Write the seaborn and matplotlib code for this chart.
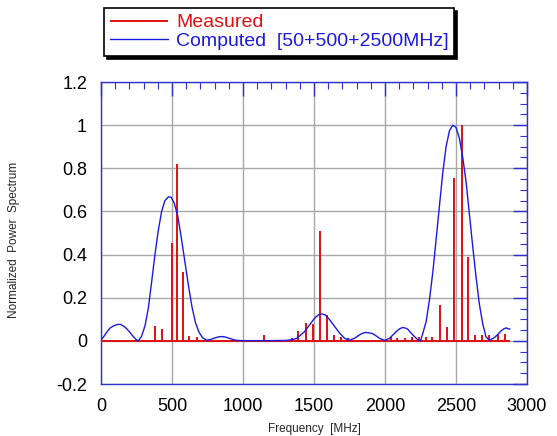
import numpy as np
import pandas as pd
import matplotlib
matplotlib.use("Agg")
import matplotlib.pyplot as plt
from matplotlib.ticker import MultipleLocator
import seaborn as sns

# Measured spectral lines (frequency in MHz, normalized power)
meas_freq = [380, 427, 501, 532, 577, 623, 679, 1148, 1342, 1389, 1443, 1490,
             1540, 1589, 1640, 1692, 1739, 2040, 2087, 2138, 2190, 2239, 2286,
             2334, 2388, 2435, 2485, 2539, 2583, 2632, 2684, 2735, 2793, 2842]
meas_vals = [0.07, 0.056, 0.454, 0.82, 0.32, 0.023, 0.02, 0.025, 0.015, 0.048,
             0.083, 0.077, 0.51, 0.118, 0.028, 0.02, 0.014, 0.017, 0.015, 0.015,
             0.02, 0.017, 0.02, 0.02, 0.167, 0.064, 0.753, 1.0, 0.39, 0.026,
             0.026, 0.026, 0.03, 0.03]

# Computed spectrum
comp_freq = [0, 20, 40, 65, 90, 115, 138, 160, 180, 205, 227, 245, 262, 285,
             310, 333, 356, 380, 403, 427, 450, 475, 495, 515, 540, 565, 590,
             615, 640, 665, 690, 715, 742, 770, 800, 825, 848, 875, 907, 935,
             960, 1000, 1100, 1200, 1300, 1340, 1376, 1399, 1434, 1469, 1504,
             1530, 1555, 1580, 1610, 1645, 1680, 1715, 1746, 1786, 1821, 1845,
             1868, 1890, 1914, 1940, 1961, 1997, 2032, 2055, 2079, 2103, 2125,
             2145, 2160, 2195, 2231, 2250, 2266, 2290, 2313, 2337, 2360, 2384,
             2407, 2430, 2454, 2477, 2500, 2524, 2547, 2571, 2594, 2618, 2641,
             2664, 2688, 2711, 2735, 2770, 2795, 2817, 2835, 2852, 2880]
comp_vals = [0.005, 0.02, 0.04, 0.06, 0.07, 0.076, 0.076, 0.068, 0.057, 0.038,
             0.02, 0.007, 0.0, 0.02, 0.07, 0.15, 0.27, 0.40, 0.51, 0.60, 0.65,
             0.668, 0.665, 0.64, 0.58, 0.48, 0.37, 0.26, 0.16, 0.085, 0.04,
             0.015, 0.003, 0.006, 0.013, 0.018, 0.02, 0.018, 0.011, 0.005,
             0.002, 0.001, 0.001, 0.001, 0.002, 0.005, 0.011, 0.023, 0.043,
             0.074, 0.105, 0.12, 0.125, 0.12, 0.098, 0.067, 0.036, 0.012, 0.003,
             0.012, 0.028, 0.036, 0.039, 0.037, 0.033, 0.022, 0.012, 0.002,
             0.012, 0.027, 0.043, 0.056, 0.062, 0.059, 0.054, 0.028, 0.005, 0.0,
             0.034, 0.09, 0.19, 0.32, 0.47, 0.63, 0.78, 0.90, 0.974, 1.0, 0.99,
             0.938, 0.853, 0.737, 0.59, 0.436, 0.297, 0.173, 0.08, 0.019, 0.003,
             0.015, 0.03, 0.046, 0.055, 0.06, 0.054]

x_ticks = [0, 500, 1000, 1500, 2000, 2500, 3000]
y_ticks = [-0.2, 0, 0.2, 0.4, 0.6, 0.8, 1.0, 1.2]
y_tick_labels = ["-0.2", "0", "0.2", "0.4", "0.6", "0.8", "1", "1.2"]

red = "#e01010"
blue = "#1a1ae0"
frame_blue = "#3030d0"

sns.set_style("white")
plt.rcParams["font.family"] = ["Liberation Sans", "DejaVu Sans"]

fig = plt.figure(figsize=(5.57, 4.36), dpi=100)
ax = fig.add_axes([101 / 557, 52 / 436, 426 / 557, 302 / 436])

comp_df = pd.DataFrame({"freq": comp_freq, "power": comp_vals})

# measured lines as stems with a baseline
meas = ax.vlines(meas_freq, 0, meas_vals, color=red, linewidth=1.4, zorder=3)
ax.hlines(0, 0, max(comp_freq), color=red, linewidth=1.4, zorder=3)
sns.lineplot(data=comp_df, x="freq", y="power", ax=ax, color=blue,
             linewidth=1.0, zorder=4)
comp_line = ax.get_lines()[-1]

ax.set_xlim(0, 3000)
ax.set_ylim(-0.2, 1.2)
ax.set_xticks(x_ticks)
ax.set_xticklabels([str(t) for t in x_ticks])
ax.set_yticks(y_ticks)
ax.set_yticklabels(y_tick_labels)
ax.xaxis.set_minor_locator(MultipleLocator(100))
ax.yaxis.set_minor_locator(MultipleLocator(0.05))

ax.grid(True, which="major", color="#a8a8a8", linewidth=1.0, zorder=0)
ax.set_axisbelow(True)
for s in ax.spines.values():
    s.set_color(frame_blue)
    s.set_linewidth(1.0)
ax.tick_params(which="both", direction="in", top=True, right=True,
               color=frame_blue, labelsize=13, labelcolor="black")
ax.tick_params(which="major", length=10, width=1.0, pad=10)
ax.tick_params(which="minor", length=5, width=0.8)

ax.set_xlabel("Frequency  [MHz]", fontsize=8.5, labelpad=6)
ax.set_ylabel("Normalized  Power  Spectrum", fontsize=8.5)
ax.yaxis.set_label_coords(-0.19, 0.477)

leg = fig.legend([meas, comp_line],
                 ["Measured", "Computed  [50+500+2500MHz]"],
                 loc="upper left", bbox_to_anchor=(104 / 557, 1 - 8 / 436),
                 fontsize=14, labelcolor=[red, blue], frameon=True,
                 fancybox=False, edgecolor="black", framealpha=1,
                 shadow={"color": "black", "alpha": 1},
                 handlelength=3.0, handletextpad=0.4, labelspacing=0.05,
                 borderpad=0.3, borderaxespad=0)
leg.get_frame().set_linewidth(1.2)

fig.savefig("out.png", dpi=100)
